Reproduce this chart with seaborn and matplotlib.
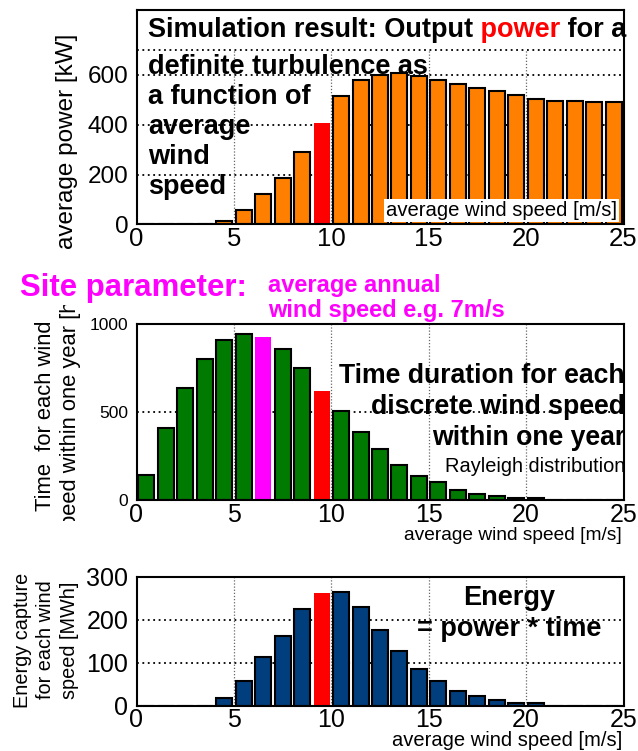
"""
Wind turbine energy yield: power curve x Rayleigh hours = energy per wind bin
"""

import matplotlib
matplotlib.use("Agg")
import matplotlib.pyplot as plt
import seaborn as sns
import pandas as pd
from matplotlib import font_manager
from matplotlib.transforms import Bbox, TransformedBbox

sns.set_style("white")
plt.rcParams['font.family'] = ['Liberation Sans', 'DejaVu Sans']
for key in ['text.color', 'axes.labelcolor', 'xtick.color', 'ytick.color']:
    plt.rcParams[key] = 'black'

installed = {f.name for f in font_manager.fontManager.ttflist}
NARROW = 'Liberation Sans Narrow' if 'Liberation Sans Narrow' in installed else None

# Data (bin centres of 1 m/s wind speed classes)
wind_speed = [0.5, 1.5, 2.5, 3.5, 4.5, 5.5, 6.5, 7.5, 8.5, 9.5, 10.5, 11.5, 12.5,
              13.5, 14.5, 15.5, 16.5, 17.5, 18.5, 19.5, 20.5, 21.5, 22.5, 23.5, 24.5]
power_kw = [0, 0, 0, 0, 15, 59, 120, 187, 292, 408, 514, 580, 601,
            609, 596, 580, 564, 546, 536, 518, 503, 497, 497, 490, 490]
hours = [140, 408, 636, 802, 911, 945, 926, 857, 751, 622, 505, 387, 290,
         201, 138, 100, 57, 34, 25, 13, 12, 0, 0, 0, 0]
energy_mwh = [0, 0, 0, 0, 18, 56, 114, 163, 224, 261, 264, 229, 176,
              127, 84, 56, 34, 23, 13, 5, 5, 0, 0, 0, 0]

highlight_speed = 9.5      # red bar
annual_mean_bin = 6.5      # magenta bar (site parameter)

ORANGE = '#FF8000'
GREEN = '#007A00'
NAVY = '#003E7E'
RED = '#FF0000'
MAGENTA = '#FF00FF'

W, H = 638, 751
fig = plt.figure(figsize=(W / 100, H / 100), dpi=100)


def px_rect(left, top, right, bottom):
    return [left / W, 1 - bottom / H, (right - left) / W, (bottom - top) / H]


def fx(x):
    return x / W


def fy(y):
    return 1 - y / H


def draw_bars(ax, values, base_color, magenta_bin=None):
    kinds = []
    for s in wind_speed:
        if s == highlight_speed:
            kinds.append('red')
        elif s == magenta_bin:
            kinds.append('magenta')
        else:
            kinds.append('base')
    df = pd.DataFrame({'speed': wind_speed, 'value': values, 'kind': kinds})
    palette = {'base': base_color, 'red': RED, 'magenta': MAGENTA}
    sns.barplot(data=df, x='speed', y='value', hue='kind', palette=palette,
                native_scale=True, width=0.82, dodge=False, legend=False,
                errorbar=None, saturation=1, ax=ax, zorder=2)
    for p in ax.patches:
        fc = p.get_facecolor()
        if fc[0] > 0.95 and fc[1] < 0.05:   # red / magenta: no outline
            p.set_edgecolor('none')
        else:
            p.set_edgecolor('black')
            p.set_linewidth(1.5)


def style_axes(ax, ymax, yticks, hgrid, vgrid_top, ytick_size, xtick_size, xpad):
    ax.set_xlim(0, 25)
    ax.set_ylim(0, ymax)
    ax.set_xticks([0, 5, 10, 15, 20, 25])
    ax.set_yticks(yticks)
    ax.tick_params(axis='x', length=0, pad=xpad, labelsize=xtick_size)
    ax.tick_params(axis='y', length=0, pad=6, labelsize=ytick_size)
    ax.set_xlabel('')
    ax.set_ylabel('')
    ax.vlines([5, 10, 15, 20], 0, vgrid_top, colors='#666666',
              linestyles=(0, (1, 1.5)), linewidth=0.9, zorder=1)
    ax.hlines(hgrid, 0, 25, colors='black', linestyles=(0, (1, 2)),
              linewidth=1.3, zorder=1)
    for sp in ax.spines.values():
        sp.set_color('black')
        sp.set_linewidth(1.5)
        sp.set_visible(True)


# ---------------- top: power curve ----------------
ax_top = fig.add_axes(px_rect(136.5, 10, 623.5, 224.3))
draw_bars(ax_top, power_kw, ORANGE)
style_axes(ax_top, 861, [0, 200, 400, 600], [200, 400, 600, 700], 700,
           17.5, 18.5, 2)
ax_top.set_ylabel('average power [kW]', fontsize=17.5, va='center')
ax_top.yaxis.set_label_coords(fx(67), fy(141), transform=fig.transFigure)

bold = dict(fontweight='bold', fontsize=19.5)
t1 = fig.text(fx(148), fy(30), 'Simulation result: Output', ha='left',
              va='center', **bold)
t2 = ax_top.annotate(' power', xy=(1, 0), xycoords=t1, ha='left', va='bottom',
                     color=RED, **bold)
ax_top.annotate(' for a', xy=(1, 0), xycoords=t2, ha='left', va='bottom', **bold)
fig.text(fx(148), fy(127), 'definite turbulence as\na function of\naverage\nwind\nspeed',
         ha='left', va='center', linespacing=1.2, **bold)

label_font = dict(family=NARROW, fontsize=17.9) if NARROW else dict(fontsize=14.6)
fig.text(fx(617), fy(210.5), 'average wind speed [m/s]', ha='right', va='center',
         bbox=dict(facecolor='white', edgecolor='none', pad=1.5), **label_font)

# ---------------- middle: Rayleigh hours ----------------
ax_mid = fig.add_axes(px_rect(136.5, 324.3, 623.5, 500))
draw_bars(ax_mid, hours, GREEN, magenta_bin=annual_mean_bin)
style_axes(ax_mid, 1000, [0, 500, 1000], [500], 1000, 12.5, 18, 2)
ylab = ax_mid.set_ylabel('Time  for each wind\nspeed within one year [h]',
                         fontsize=15.8, va='center', linespacing=1.2)
ax_mid.yaxis.set_label_coords(fx(58), fy(416), transform=fig.transFigure)
ylab.set_clip_box(TransformedBbox(Bbox.from_extents(0, fy(521), 1, fy(305)),
                                  fig.transFigure))
ylab.set_clip_on(True)

fig.text(fx(20), fy(288), 'Site parameter:', ha='left', va='center',
         color=MAGENTA, fontweight='bold', fontsize=22.4)
fig.text(fx(268), fy(298), 'average annual\nwind speed e.g. 7m/s', ha='left',
         va='center', color=MAGENTA, fontweight='bold', fontsize=17,
         linespacing=1.1)
fig.text(fx(625), fy(407), 'Time duration for each\ndiscrete wind speed\nwithin one year',
         ha='right', va='center', multialignment='right', linespacing=1.25,
         fontweight='bold', fontsize=19.2)
fig.text(fx(625), fy(467), 'Rayleigh distribution', ha='right', va='center',
         fontsize=14.4)

mid_font = dict(family=NARROW, fontsize=16.8) if NARROW else dict(fontsize=13.8)
fig.text(fx(622), fy(535), 'average wind speed [m/s]', ha='right', va='center',
         **mid_font)

# ---------------- bottom: energy ----------------
ax_bot = fig.add_axes(px_rect(136.5, 576.7, 623.5, 705.5))
draw_bars(ax_bot, energy_mwh, NAVY)
style_axes(ax_bot, 300, [0, 100, 200, 300], [100, 200], 300, 18, 18, 1.5)
ax_bot.set_ylabel('Energy capture\nfor each wind\nspeed [MWh]', fontsize=14.3,
                  va='center', linespacing=1.3)
ax_bot.yaxis.set_label_coords(fx(46), fy(640), transform=fig.transFigure)

fig.text(fx(509), fy(613.5), 'Energy\n= power * time', ha='center', va='center',
         multialignment='center', linespacing=1.22, fontweight='bold',
         fontsize=19.5)

bot_font = dict(family=NARROW, fontsize=17.6) if NARROW else dict(fontsize=14.5)
fig.text(fx(622), fy(750), 'average wind speed [m/s]', ha='right', va='bottom',
         **bot_font)

fig.savefig('out.png', dpi=100)
print(f"[INFO] Saved: out.png (narrow font: {NARROW})")
